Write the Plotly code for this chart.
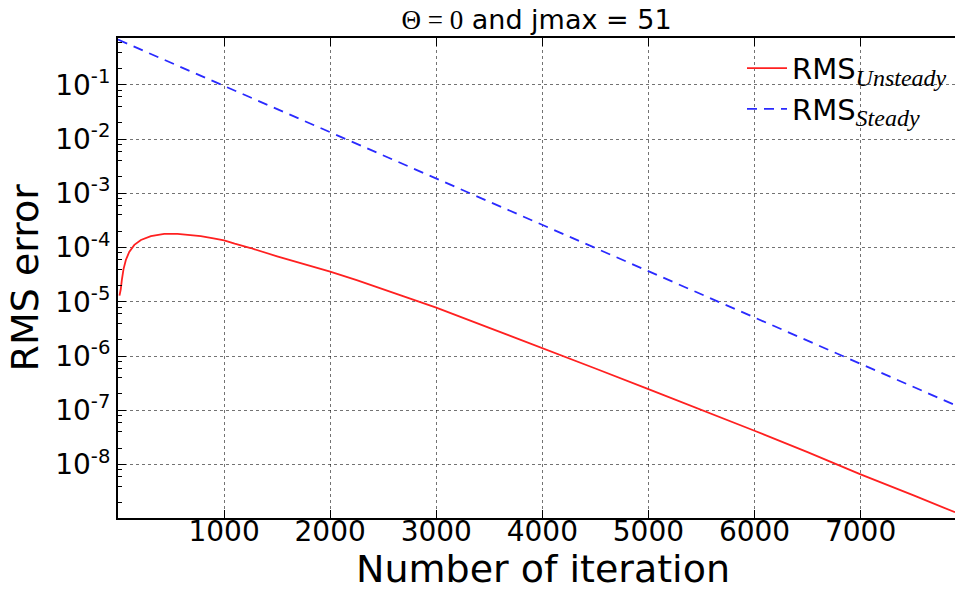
import plotly.graph_objects as go

# Iteration counts and RMS error of the unsteady residual
iter_unsteady = [14, 26, 36, 52, 74, 106, 154, 216, 310, 436, 561, 671, 780, 900,
                 1000, 1100, 1250, 1500, 1750, 2000, 2250, 2500, 2750, 3000, 3500,
                 4000, 4500, 5000, 5500, 6000, 6500, 7000, 7500, 7890]
rms_unsteady = [1.3e-5, 1.7e-5, 2.5e-5, 4.0e-5, 5.9e-5, 8.3e-5, 1.12e-4, 1.38e-4,
                1.62e-4, 1.78e-4, 1.78e-4, 1.70e-4, 1.62e-4, 1.48e-4,
                1.35e-4, 1.18e-4, 9.8e-5, 6.9e-5, 5.0e-5, 3.6e-5, 2.5e-5, 1.7e-5,
                1.15e-5, 7.8e-6, 3.3e-6, 1.41e-6, 5.9e-7, 2.45e-7, 1.02e-7,
                4.2e-8, 1.7e-8, 6.6e-9, 2.7e-9, 1.32e-9]

# Iteration counts and RMS error of the steady residual
iter_steady = [0, 1000, 2000, 3000, 4000, 5000, 6000, 7000, 7890]
rms_steady = [0.68, 0.095, 0.0133, 1.86e-3, 2.6e-4, 3.6e-5, 5.0e-6, 7.0e-7, 1.25e-7]

x_ticks = [1000, 2000, 3000, 4000, 5000, 6000, 7000]
y_exponents = [-8, -7, -6, -5, -4, -3, -2, -1]

SANS = "DejaVu Sans"
SERIF = "Liberation Serif"


def legend_label(sub):
    return ("RMS<sub><span style='font-family:Liberation Serif;font-size:24px'>"
            f"<i>{sub}</i></span></sub>")


fig = go.Figure()
fig.add_trace(go.Scatter(
    x=iter_unsteady, y=rms_unsteady, mode="lines",
    line=dict(color="#ff2020", width=1.8),
    name=legend_label("Unsteady"),
))
fig.add_trace(go.Scatter(
    x=iter_steady, y=rms_steady, mode="lines",
    line=dict(color="#2a2aff", width=1.8, dash="10px,7px"),
    name=legend_label("Steady"),
))

minor_vals = [m * 10.0 ** e for e in range(-9, 0) for m in (2, 4, 6, 8)]

fig.update_layout(
    width=955, height=590,
    margin=dict(l=118, r=0, t=38, b=72),
    paper_bgcolor="white", plot_bgcolor="white",
    font=dict(family=SANS, color="black"),
    showlegend=True,
    legend=dict(
        x=(742 - 118) / 837, y=0.99, xanchor="left", yanchor="top",
        bgcolor="rgba(0,0,0,0)", borderwidth=0,
        font=dict(family=SANS, size=29, color="black"),
        tracegroupgap=0, itemwidth=40,
    ),
    title=dict(
        text=("<span style='font-family:Liberation Serif'>Θ = 0</span>"
              " and jmax = 51"),
        x=0.5, xref="paper", xanchor="center",
        y=1 - 20 / 590, yref="container", yanchor="middle",
        font=dict(family=SANS, size=27, color="black"),
    ),
    xaxis=dict(
        range=[0, 7890],
        tickmode="array", tickvals=x_ticks,
        ticktext=[str(v) for v in x_ticks],
        ticks="inside", ticklen=8, tickwidth=1, tickcolor="black",
        showline=True, linecolor="black", linewidth=2, mirror="ticks",
        showgrid=True, gridcolor="rgba(0,0,0,0.55)", griddash="dot", gridwidth=1,
        zeroline=False,
        ticklabelstandoff=-13,
        tickfont=dict(family=SANS, size=28, color="black"),
    ),
    yaxis=dict(
        type="log", range=[-8.985, -0.138],
        tickmode="array", tickvals=[10.0 ** e for e in y_exponents],
        ticktext=[f"10<sup>{e}</sup>" for e in y_exponents],
        ticks="inside", ticklen=8, tickwidth=1, tickcolor="black",
        showline=True, linecolor="black", linewidth=2,
        showgrid=True, gridcolor="rgba(0,0,0,0.55)", griddash="dot", gridwidth=1,
        zeroline=False,
        tickfont=dict(family=SANS, size=28, color="black"),
        minor=dict(tickmode="array", tickvals=minor_vals, ticks="inside",
                   ticklen=4, tickcolor="black", showgrid=False),
    ),
    annotations=[
        dict(text="Number of iteration", xref="paper", yref="paper",
             x=(542.5 - 118) / 837, y=-(569 - 518) / 480,
             xanchor="center", yanchor="middle", showarrow=False,
             font=dict(family=SANS, size=38, color="black")),
        dict(text="RMS error", xref="paper", yref="paper",
             x=-(118 - 24) / 837, y=(518 - 277.5) / 480,
             xanchor="center", yanchor="middle", showarrow=False, textangle=-90,
             font=dict(family=SANS, size=38, color="black")),
    ],
)

fig.write_html("out.html")
